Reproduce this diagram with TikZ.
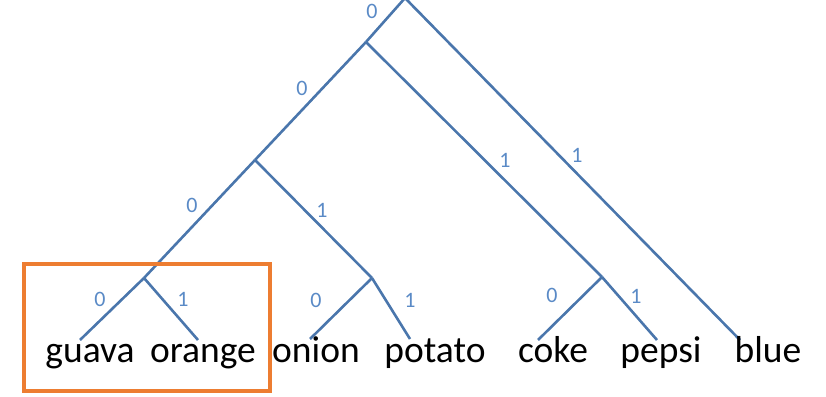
\documentclass[tikz,border=0pt]{standalone}
\usepackage{fontspec}
\setmainfont{Carlito}
\definecolor{branch}{HTML}{4A76AC}
\definecolor{bitlbl}{HTML}{5A8AC6}
\definecolor{boxorange}{HTML}{ED7D31}
\begin{document}
\begin{tikzpicture}[x=1pt,y=-1pt,
  edge/.style={draw=branch,line width=2.6pt},
  bit/.style={text=bitlbl,font=\fontsize{22}{22}\selectfont,inner sep=0pt},
  word/.style={font=\fontsize{37.5}{37.5}\selectfont,anchor=base,inner sep=0pt}]
\useasboundingbox (0,0) rectangle (826,396);
% internal branch points
\coordinate (root) at (405,-2);
\coordinate (a) at (366,42);
\coordinate (b) at (255,160);
\coordinate (c) at (144,278);
\coordinate (d) at (372,278);
\coordinate (e) at (602,277);
% leaf ends
\coordinate (lguava) at (80,340);
\coordinate (lorange) at (198,340);
\coordinate (lonion) at (310,339);
\coordinate (lpotato) at (410,339);
\coordinate (lcoke) at (538,340);
\coordinate (lpepsi) at (657,340);
\coordinate (lblue) at (740,340);
% branches
\draw[edge] (root) -- (a);
\draw[edge] (root) -- (lblue);
\draw[edge] (a) -- (b);
\draw[edge] (a) -- (e);
\draw[edge] (b) -- (c);
\draw[edge] (b) -- (d);
\draw[edge] (c) -- (lguava);
\draw[edge] (c) -- (lorange);
\draw[edge] (d) -- (lonion);
\draw[edge] (d) -- (lpotato);
\draw[edge] (e) -- (lcoke);
\draw[edge] (e) -- (lpepsi);
% bit labels
\node[bit] (b1) at (372,11) {0};
\node[bit] (b2) at (577,155) {1};
\node[bit] (b3) at (302,88) {0};
\node[bit] (b4) at (505,160) {1};
\node[bit] (b5) at (192,205) {0};
\node[bit] (b6) at (322,210) {1};
\node[bit] (b7) at (100,299) {0};
\node[bit] (b8) at (183,299) {1};
\node[bit] (b9) at (316,300) {0};
\node[bit] (b10) at (410,300) {1};
\node[bit] (b11) at (552,295) {0};
\node[bit] (b12) at (636,296) {1};
% leaf words
\node[word] (guava) at (90,362) {guava};
\node[word] (orange) at (203,362) {orange};
\node[word] (onion) at (316,362) {onion};
\node[word] (potato) at (435,362) {potato};
\node[word] (coke) at (553,362) {coke};
\node[word] (pepsi) at (661,362) {pepsi};
\node[word] (blue) at (768,362) {blue};
% highlight box
\draw[boxorange,line width=4pt] (24,264) rectangle (270,391);
\end{tikzpicture}
\end{document}
